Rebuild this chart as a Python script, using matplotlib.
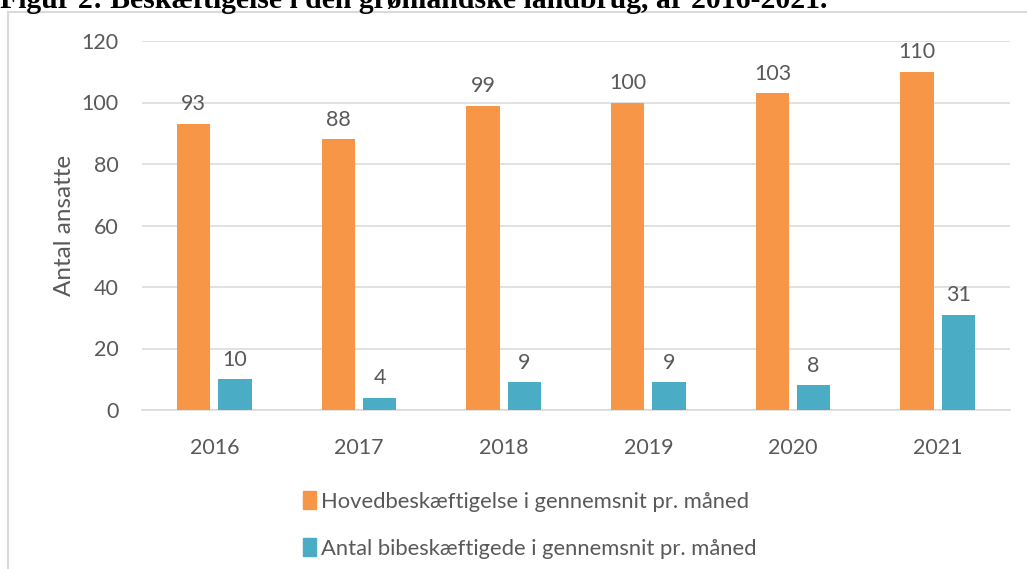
import matplotlib
matplotlib.use("Agg")
import matplotlib.pyplot as plt
from matplotlib.patches import Rectangle, Patch
import numpy as np

years = ["2016", "2017", "2018", "2019", "2020", "2021"]
hoved = [93, 88, 99, 100, 103, 110]
bibesk = [10, 4, 9, 9, 8, 31]
labels = ["Hovedbeskæftigelse i gennemsnit pr. måned",
          "Antal bibeskæftigede i gennemsnit pr. måned"]
yticks = [0, 20, 40, 60, 80, 100, 120]

ORANGE = "#F79646"
BLUE = "#4BACC6"
GREY = "#595959"
GRID = "#D9D9D9"

plt.rcParams["font.family"] = ["Lato", "DejaVu Sans"]

fig = plt.figure(figsize=(10.27, 5.69), dpi=100)
ax = fig.add_axes([142/1027, 1 - 410/569, 868/1027, 369/569])

x = np.arange(len(years))
w = 0.23
b1 = ax.bar(x - 0.142, hoved, w, color=ORANGE, label=labels[0], zorder=3)
b2 = ax.bar(x + 0.142, bibesk, w, color=BLUE, label=labels[1], zorder=3)
ax.bar_label(b1, padding=7, fontsize=15.5, color=GREY)
ax.bar_label(b2, padding=7, fontsize=15.5, color=GREY)

ax.set_xlim(-0.5, len(years) - 0.5)
ax.set_ylim(0, 120)
ax.set_yticks(yticks)
ax.set_xticks(x)
ax.set_xticklabels(years)
ax.tick_params(length=0, labelsize=15.5, labelcolor=GREY)
ax.tick_params(axis="y", pad=17)
ax.tick_params(axis="x", pad=20)
ax.yaxis.grid(True, color=GRID, linewidth=1.1, zorder=0)
for s in ["top", "right", "left"]:
    ax.spines[s].set_visible(False)
ax.spines["bottom"].set_color(GRID)
ax.spines["bottom"].set_linewidth(1.1)
ax.set_ylabel("Antal ansatte", fontsize=17.5, color=GREY)
ax.yaxis.set_label_coords(-0.077, 0.5)

handles = [Patch(color=ORANGE), Patch(color=BLUE)]
fig.legend(handles, labels, loc="upper left", bbox_to_anchor=(292/1027, 1 - 480/569),
           frameon=False, fontsize=15.8, labelcolor=GREY, handlelength=0.6,
           handleheight=0.9, handletextpad=0.2, labelspacing=1.2, borderpad=0)

# chart frame (partly cut off at right/bottom)
fig.patches.append(Rectangle((8/1027, -0.1), 1.2, 1 - 12/569 + 0.1,
                             transform=fig.transFigure, fill=False,
                             edgecolor=GRID, linewidth=1.5))

fig.text(0, 1 - 8/569, "Figur 2: Beskæftigelse i den grønlandske landbrug, år 2016-2021.",
         fontsize=21.4, fontweight="bold", family="Liberation Serif",
         va="baseline", ha="left", color="black")

fig.savefig("out.png", dpi=100)
